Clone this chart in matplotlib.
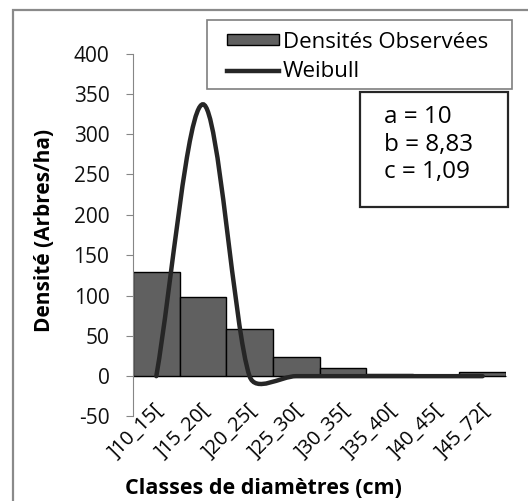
import numpy as np
import matplotlib
matplotlib.use("Agg")
import matplotlib.pyplot as plt
import matplotlib.transforms as mtransforms
from matplotlib.path import Path
from matplotlib.patches import PathPatch, Rectangle
from matplotlib.lines import Line2D

plt.rcParams['font.family'] = ['Open Sans', 'DejaVu Sans']
plt.rcParams['axes.unicode_minus'] = False

# data
classes = [']10_15[', ']15_20[', ']20_25[', ']25_30[', ']30_35[', ']35_40[', ']40_45[', ']45_72[']
observed = [129, 98, 59, 24, 10, 3, 2, 5]
weibull = [0, 337, 0, 0, 0, 0, 0, 0]
params = ['a = 10', 'b = 8,83', 'c = 1,09']

W, H = 528, 501
def fx(x): return x / W
def fy(y): return 1 - y / H

fig = plt.figure(figsize=(W / 100, H / 100), dpi=100)
ax = fig.add_axes([fx(133), fy(416.5), fx(506) - fx(133), fy(53.5) - fy(416.5)])

x = np.arange(len(classes))
ax.bar(x, observed, width=1.0, color='#606060', edgecolor='black', linewidth=1.0, zorder=2)
ax.set_xlim(-0.5, len(classes) - 0.5)
ax.set_ylim(-50, 400)
ax.set_yticks(np.arange(-50, 401, 50))

def smooth_path(xs, ys):
	# excel-like smoothed line, control points computed in pixel space
	pts = ax.transData.transform(np.column_stack([xs, ys]))
	n = len(pts)
	tang = []
	for i in range(n):
		a = pts[max(i - 1, 0)]
		b = pts[min(i + 1, n - 1)]
		tang.append(b - a)
	verts = [pts[0]]
	codes = [Path.MOVETO]
	for i in range(n - 1):
		seg = np.linalg.norm(pts[i + 1] - pts[i])
		t0 = tang[i] / (6 if 0 < i else 3)
		t1 = tang[i + 1] / (6 if i + 1 < n - 1 else 3)
		l0 = np.linalg.norm(t0)
		l1 = np.linalg.norm(t1)
		if l0 > 0.4 * seg:
			t0 = t0 / l0 * 0.4 * seg
		if l1 > 0.4 * seg:
			t1 = t1 / l1 * 0.4 * seg
		verts += [pts[i] + t0, pts[i + 1] - t1, pts[i + 1]]
		codes += [Path.CURVE4] * 3
	verts = ax.transData.inverted().transform(np.array(verts))
	return Path(verts, codes)

ax.add_patch(PathPatch(smooth_path(x, weibull), facecolor='none', edgecolor='#262626',
	linewidth=3.2, capstyle='round', zorder=3))

# axes look
for s in ['top', 'right']:
	ax.spines[s].set_visible(False)
ax.spines['left'].set_color('#868686')
ax.spines['bottom'].set_position(('data', 0))
ax.spines['bottom'].set_color('#868686')
ax.spines['bottom'].set_zorder(1)
ax.tick_params(axis='y', length=5, color='#868686', labelsize=15, pad=12, labelcolor='#111111')
ax.tick_params(axis='x', length=0, pad=17)
ax.set_xticks(x)
ax.set_xticklabels(classes, rotation=45, ha='right', rotation_mode='anchor', fontsize=14.5)
shift = mtransforms.ScaledTranslation(-3 / 100, 0, fig.dpi_scale_trans)
for lab in ax.get_xticklabels():
	lab.set_transform(lab.get_transform() + shift)

ax.set_ylabel('Densité (Arbres/ha)', fontsize=15, fontweight='bold', va='center')
ax.yaxis.set_label_coords((45 - 133) / 373, (416.5 - 230) / 363)
ax.set_xlabel('Classes de diamètres (cm)', fontsize=15.5, fontweight='bold', va='center')
ax.xaxis.set_label_coords((263 - 133) / 373, (416.5 - 488) / 363)

# legend, frame drawn separately
handles = [Rectangle((0, 0), 1, 1, facecolor='#606060', edgecolor='black', linewidth=1.0),
	Line2D([], [], color='#262626', linewidth=3.2)]
leg = ax.legend(handles, ['Densités Observées', 'Weibull'], loc='center left',
	bbox_to_anchor=(fx(227), fy(57)), bbox_transform=fig.transFigure,
	fontsize=16, frameon=False, borderpad=0, borderaxespad=0,
	handlelength=52 / 22.2, handleheight=0.35, handletextpad=0.18, labelspacing=0.4)
leg.set_zorder(6)
ax.add_artist(Rectangle((fx(207), fy(89)), fx(512) - fx(207), fy(20) - fy(89),
	transform=fig.transFigure, facecolor='white', edgecolor='#7f7f7f', linewidth=1.2,
	zorder=5, clip_on=False))

# parameter box
fig.patches.append(Rectangle((fx(360), fy(207)), fx(508) - fx(360), fy(92) - fy(207),
	transform=fig.transFigure, facecolor='white', edgecolor='#262626', linewidth=1.6, zorder=5))
for i, p in enumerate(params):
	fig.text(fx(384), fy(117 + 27.5 * i), p, fontsize=17.5, va='center', ha='left', zorder=6)

# outer chart frame
fig.patches.append(Rectangle((fx(13), fy(520)), fx(540) - fx(13), fy(10) - fy(520),
	transform=fig.transFigure, facecolor='none', edgecolor='#8a8a8a', linewidth=1.6))

fig.savefig('out.png', dpi=100)
